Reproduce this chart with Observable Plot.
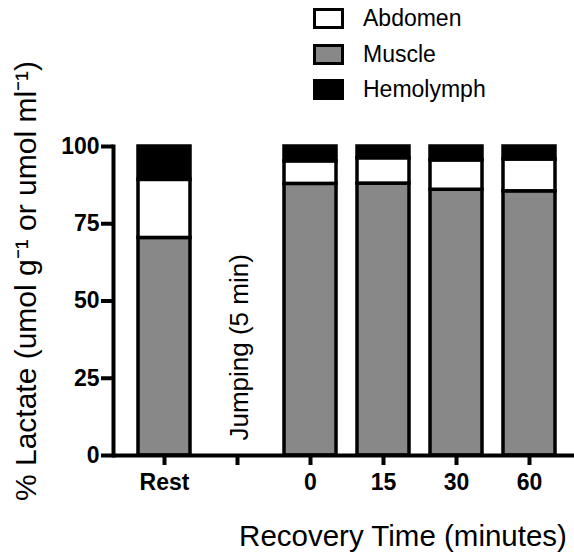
<!DOCTYPE html>
<html>
<head>
<meta charset="utf-8">
<script src="https://cdn.jsdelivr.net/npm/d3@7"></script>
<script src="https://cdn.jsdelivr.net/npm/@observablehq/plot@0.6"></script>
<style>
  html, body { margin: 0; padding: 0; background: white; }
  body { width: 574px; height: 556px; position: relative; overflow: hidden; font-family: "Liberation Sans", Arial, sans-serif; }
  #legend { position: absolute; left: 313px; top: 1px; }
  .item { display: flex; align-items: center; height: 35.5px; font-size: 23px; color: black; }
  .sw { width: 25px; height: 15px; border: 3px solid black; margin-right: 19px; box-sizing: content-box; }
</style>
</head>
<body>
<div id="legend"></div>
<div id="chart"></div>
<script>
// Data
const xDomain = ["Rest", "Jump", "0", "15", "30", "60"];
const categories = ["Rest", "0", "15", "30", "60"];
const muscle    = [70.4, 87.9, 88.0, 86.0, 85.5];
const abdomen   = [18.8, 7.3, 8.2, 9.5, 10.3];
const hemolymph = [10.8, 4.8, 3.8, 4.5, 4.2];
const seriesNames = ["Abdomen", "Muscle", "Hemolymph"];
const seriesColors = ["white", "#888888", "black"];
const yTicks = [0, 25, 50, 75, 100];
const jumpNote = [{category: "Jump", label: "Jumping (5 min)", y: 35}];
const xTitle = "Recovery Time (minutes)";
const yTitle = "% Lactate (umol g\u207B\u00B9 or umol ml\u207B\u00B9)";

const rows = [];
categories.forEach((c, i) => {
  rows.push({category: c, series: "Muscle", value: muscle[i]});
  rows.push({category: c, series: "Abdomen", value: abdomen[i]});
  rows.push({category: c, series: "Hemolymph", value: hemolymph[i]});
});

// legend
const legend = document.getElementById("legend");
seriesNames.forEach((s, i) => {
  const it = document.createElement("div");
  it.className = "item";
  const sw = document.createElement("span");
  sw.className = "sw";
  sw.style.background = seriesColors[i];
  it.appendChild(sw);
  it.appendChild(document.createTextNode(s));
  legend.appendChild(it);
});

const chart = Plot.plot({
  width: 574,
  height: 556,
  marginLeft: 113,
  marginRight: 0,
  marginTop: 146,
  marginBottom: 101,
  style: {fontFamily: "Liberation Sans, Arial, sans-serif", background: "white", color: "black", overflow: "visible"},
  x: {domain: xDomain, paddingInner: 0.293, paddingOuter: 0.277, align: 0.56, axis: null},
  y: {domain: [0, 100], axis: null},
  color: {domain: seriesNames, range: seriesColors},
  marks: [
    Plot.barY(rows, Plot.stackY({x: "category", y: "value", fill: "series", stroke: "black", strokeWidth: 3.5})),
    Plot.ruleY([0], {strokeWidth: 4}),
    Plot.frame({anchor: "left", strokeWidth: 4}),
    Plot.axisY({ticks: yTicks, tickSize: 12, tickPadding: 2, strokeWidth: 4, fontSize: 23, fontWeight: "bold", label: null}),
    Plot.axisX({tickSize: 10, tickPadding: 8, strokeWidth: 4, fontSize: 23, fontWeight: "bold", label: null,
      tickFormat: d => d === "Jump" ? "" : d}),
    Plot.text(jumpNote, {x: "category", y: "y", text: "label", rotate: -90, fontSize: 26, dx: 2}),
    Plot.text([xTitle], {frameAnchor: "bottom", text: d => d, dx: 59, dy: 90, fontSize: 29.5}),
    Plot.text([yTitle], {frameAnchor: "left", textAnchor: "middle", text: d => d, rotate: -90, dx: -87, dy: -20, fontSize: 30})
  ]
});
document.getElementById("chart").appendChild(chart);
</script>
</body>
</html>
